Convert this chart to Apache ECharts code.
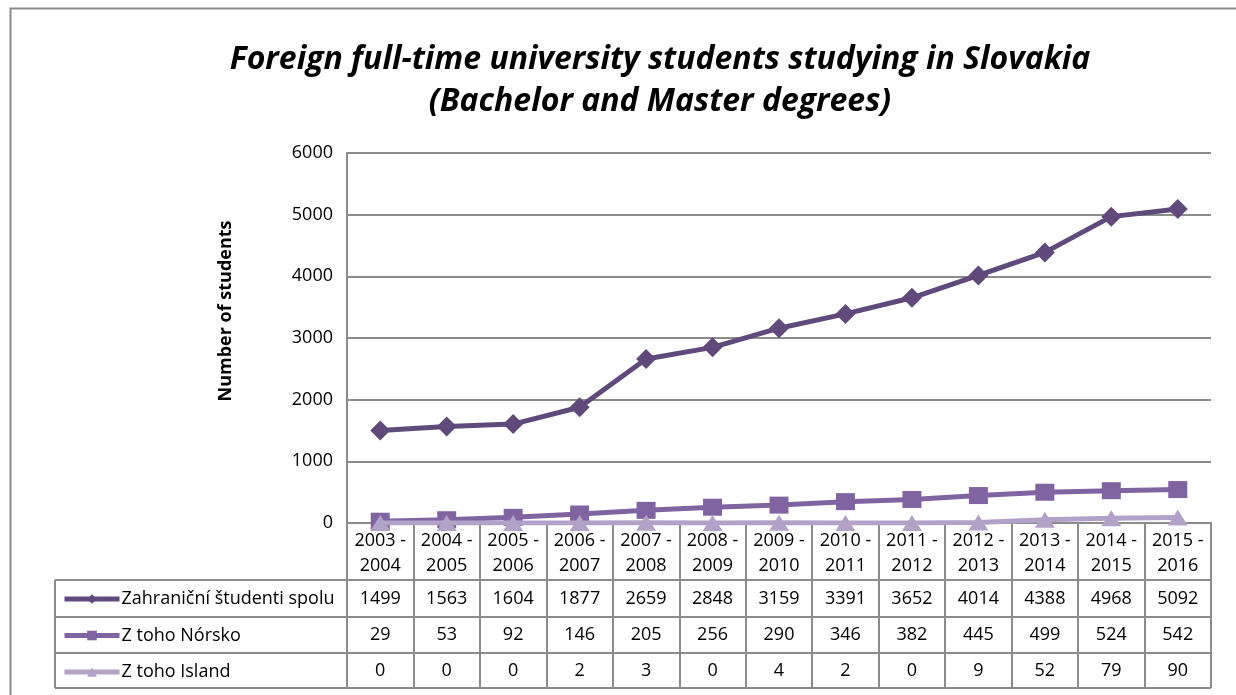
<!DOCTYPE html>
<html>
<head>
<meta charset="utf-8">
<title>Foreign full-time university students studying in Slovakia</title>
<script src="https://cdn.jsdelivr.net/npm/echarts@6/dist/echarts.min.js"></script>
<style>
  html, body { margin: 0; padding: 0; background: #ffffff; }
  #main { width: 1236px; height: 695px; }
</style>
</head>
<body>
<div id="main"></div>
<script>
// data
var years = ['2003 -\n2004', '2004 -\n2005', '2005 -\n2006', '2006 -\n2007', '2007 -\n2008', '2008 -\n2009',
  '2009 -\n2010', '2010 -\n2011', '2011 -\n2012', '2012 -\n2013', '2013 -\n2014', '2014 -\n2015', '2015 -\n2016'];
var spolu = [1499, 1563, 1604, 1877, 2659, 2848, 3159, 3391, 3652, 4014, 4388, 4968, 5092];
var norsko = [29, 53, 92, 146, 205, 256, 290, 346, 382, 445, 499, 524, 542];
var island = [0, 0, 0, 2, 3, 0, 4, 2, 0, 9, 52, 79, 90];
var seriesNames = ['Zahraniční študenti spolu', 'Z toho Nórsko', 'Z toho Island'];
var yTicks = [0, 1000, 2000, 3000, 4000, 5000, 6000];

var FONT = '"Open Sans", sans-serif';
var GRAY = '#8c8c8c';

var chart = echarts.init(document.getElementById('main'), null, { renderer: 'canvas' });

// one hidden axis per table row, labels come from the row values
function rowAxis(values, offset) {
  return {
    type: 'category',
    data: years,
    position: 'bottom',
    offset: offset,
    axisLine: { show: false },
    axisTick: { show: false },
    axisLabel: {
      interval: 0,
      margin: 0,
      verticalAlign: 'middle',
      color: '#000',
      fontFamily: FONT,
      fontSize: 18,
      formatter: function (v, i) { return String(values[i]); }
    }
  };
}

var option = {
  backgroundColor: '#ffffff',
  animation: false,
  title: {
    text: 'Foreign full-time university students studying in Slovakia\n(Bachelor and Master degrees)',
    left: 655,
    top: 34,
    textAlign: 'center',
    textStyle: {
      fontFamily: FONT,
      fontStyle: 'italic',
      fontWeight: 'bold',
      fontSize: 32,
      lineHeight: 42,
      color: '#000'
    }
  },
  legend: {
    orient: 'vertical',
    left: 57,
    top: 585,
    itemWidth: 55,
    itemHeight: 12,
    itemGap: 18.5,
    data: seriesNames,
    lineStyle: { width: 5 },
    textStyle: { fontFamily: FONT, fontSize: 18, color: '#000', padding: [0, 0, 0, -3] }
  },
  grid: {
    left: 347,
    right: 25,
    top: 153,
    bottom: 172,
    containLabel: false,
    outerBoundsMode: 'none'
  },
  xAxis: [
    {
      type: 'category',
      data: years,
      boundaryGap: true,
      axisLine: { show: true, lineStyle: { color: GRAY, width: 2 } },
      axisTick: { show: true, interval: 0, length: 165, lineStyle: { color: GRAY, width: 2 } },
      axisLabel: {
        interval: 0,
        margin: 5,
        color: '#000',
        fontFamily: FONT,
        fontSize: 18,
        lineHeight: 25
      }
    },
    rowAxis(spolu, 75.5),
    rowAxis(norsko, 112),
    rowAxis(island, 147.5)
  ],
  yAxis: {
    type: 'value',
    min: yTicks[0],
    max: yTicks[yTicks.length - 1],
    interval: 1000,
    axisLine: { show: true, lineStyle: { color: GRAY, width: 2 } },
    axisTick: { show: false },
    axisLabel: {
      margin: 14,
      color: '#000',
      fontFamily: FONT,
      fontSize: 18,
      formatter: function (v) { return String(v); }
    },
    splitLine: { show: true, lineStyle: { color: GRAY, width: 2 } }
  },
  series: [
    {
      name: seriesNames[0],
      type: 'line',
      data: spolu,
      symbol: 'diamond',
      symbolSize: 20,
      lineStyle: { width: 5, color: '#604a7b' },
      itemStyle: { color: '#604a7b' },
      z: 3
    },
    {
      name: seriesNames[1],
      type: 'line',
      data: norsko,
      symbol: 'rect',
      symbolSize: [19, 17],
      lineStyle: { width: 5, color: '#8064a2' },
      itemStyle: { color: '#8064a2' },
      z: 4
    },
    {
      name: seriesNames[2],
      type: 'line',
      data: island,
      symbol: 'triangle',
      symbolSize: [20, 16],
      lineStyle: { width: 5, color: '#b3a2c7' },
      itemStyle: { color: '#b3a2c7' },
      z: 5
    }
  ],
  graphic: [
    // outer chart border
    { type: 'rect', shape: { x: 10.5, y: 8.5, width: 1240, height: 700 }, style: { fill: null, stroke: GRAY, lineWidth: 2 }, silent: true },
    // table horizontal lines and left edge
    { type: 'line', shape: { x1: 55, y1: 580, x2: 1211, y2: 580 }, style: { stroke: GRAY, lineWidth: 2 } },
    { type: 'line', shape: { x1: 55, y1: 617, x2: 1211, y2: 617 }, style: { stroke: GRAY, lineWidth: 2 } },
    { type: 'line', shape: { x1: 55, y1: 653, x2: 1211, y2: 653 }, style: { stroke: GRAY, lineWidth: 2 } },
    { type: 'line', shape: { x1: 55, y1: 688, x2: 1211, y2: 688 }, style: { stroke: GRAY, lineWidth: 2 } },
    { type: 'line', shape: { x1: 55, y1: 580, x2: 55, y2: 688 }, style: { stroke: GRAY, lineWidth: 2 } },
    // y axis title
    {
      type: 'text',
      x: 226,
      y: 311,
      rotation: Math.PI / 2,
      style: {
        text: 'Number of students',
        fontFamily: FONT,
        fontSize: 18,
        fontWeight: 'bold',
        fill: '#000',
        align: 'center',
        verticalAlign: 'middle'
      }
    }
  ]
};

chart.setOption(option);
</script>
</body>
</html>
